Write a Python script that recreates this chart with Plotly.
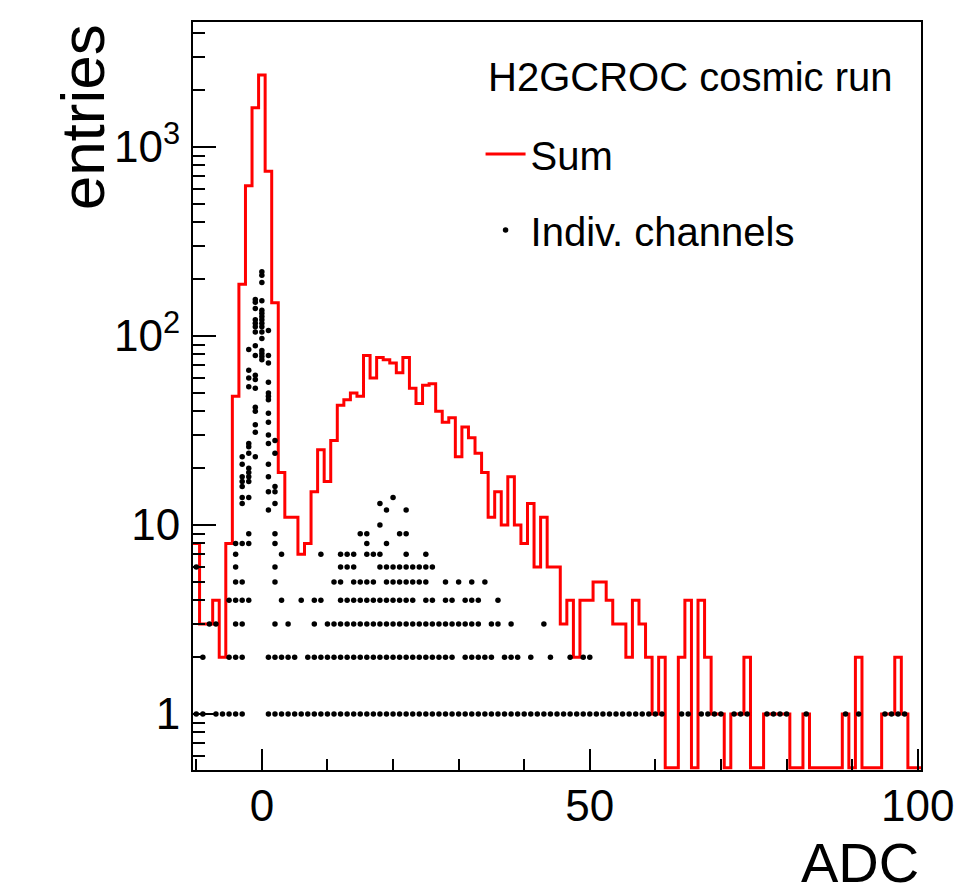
import numpy as np
import plotly.graph_objects as go

# ---------------- data ----------------
adc_first, adc_last = -10, 100          # bin centres (bin width 1)
sum_counts = [
    8, 3, 3, 4, 2, 8, 48, 188, 624, 1614,          # -10 .. -1
    2404, 746, 150, 19, 11, 11, 7, 8, 15, 25,       # 0 .. 9
    17, 28, 43, 46, 50, 48, 79, 60, 77, 75,         # 10 .. 19
    72, 64, 77, 53, 44, 55, 56, 40, 35, 37,         # 20 .. 29
    23, 33, 29, 24, 19, 11, 15, 10, 18, 10,         # 30 .. 39
    8, 13, 6, 11, 6, 6, 3, 4, 2, 4,                 # 40 .. 49
    4, 5, 5, 4, 3, 3, 2, 4, 3, 2,                   # 50 .. 59
    1, 2, 0, 0, 2, 4, 0, 4, 2, 1,                   # 60 .. 69
    1, 0, 1, 1, 2, 0, 0, 1, 1, 1,                   # 70 .. 79
    1, 0, 0, 1, 0, 0, 0, 0, 0, 1,                   # 80 .. 89
    0, 2, 0, 0, 0, 1, 1, 2, 1, 0,                   # 90 .. 99
    0,                                              # 100
]

# individual channels: for each low count level, the ADC bins where a channel has that count
level_1 = [-10, -9, -7, -6, -5, -4, -3] + list(range(1, 62)) + \
          [64, 65, 67, 68, 69, 70, 72, 73, 74, 77, 78, 79, 80, 83, 89, 91, 95, 96, 97, 98]
level_2 = [-9, -5, -4, -3, 1, 2, 3, 4, 5] + list(range(7, 30)) + \
          [31, 32, 33, 34, 35, 37, 38, 39, 41, 44, 47, 49, 50]
level_3 = [-8, -7, -4, -3, 2, 4, 8] + list(range(10, 34)) + [35, 36, 38, 43]
level_4 = [-5, -4, -3, -2, 3, 6, 8, 9] + list(range(12, 24)) + [25, 26, 28, 29, 31, 32, 33, 36]
level_5 = [-4, -3, 2, 11, 12, 14, 15, 16, 17, 19, 20, 21, 22, 23, 24, 25, 28, 30, 32, 34]
level_6 = [-10, -4, 2, 12, 13, 14, 18, 19, 20, 21, 22, 23, 24, 25, 26]
level_7 = [-4, 3, 9, 12, 13, 14, 16, 17, 18, 22, 25]
level_8 = [-4, -3, -2, 2, 16, 19]
level_9 = [-2, 2, 15, 16, 21, 22]
level_10 = [18]
level_12 = [1, 19, 22]
level_13 = [-3, 2, 18]
level_14 = [-3, -2, 20]

# individual channels with higher counts near the pedestal peak (per ADC bin)
peak_m3 = [23, 21, 18, 17, 16]
peak_m2 = [85, 66, 60, 54, 27, 26, 24, 20, 19, 18, 17]
peak_m1 = [156, 151, 140, 122, 117, 112, 105, 89, 79, 62, 59, 53, 42, 40, 34, 31, 23]
peak_0 = [219, 210, 192, 154, 137, 132, 127, 122, 117, 112, 105, 97, 84, 81, 78, 75]
peak_p1 = [107, 79, 72, 57, 50, 48, 46, 39, 35, 30, 27, 21, 18, 15]
peak_p2 = [28, 24, 16, 15]

y_tick_vals = [1, 10, 100, 1000]
y_tick_text = ["1", "10", "10<sup>2</sup>", "10<sup>3</sup>"]
x_tick_vals = [0, 50, 100]

# ---------------- build traces ----------------
centres = np.arange(adc_first, adc_last + 1)
counts = np.array(sum_counts, dtype=float)
assert len(counts) == len(centres)

y_min, y_max = 0.506, 4590.0
floor_val = 0.52   # empty bins drawn on the frame bottom (ROOT style)
disp = np.where(counts > 0, counts, floor_val)
edges = np.concatenate([centres - 0.5, [centres[-1] + 0.5]])
step_y = np.concatenate([disp, [disp[-1]]])

levels = {1: level_1, 2: level_2, 3: level_3, 4: level_4, 5: level_5, 6: level_6,
          7: level_7, 8: level_8, 9: level_9, 10: level_10, 12: level_12,
          13: level_13, 14: level_14}
peaks = {-3: peak_m3, -2: peak_m2, -1: peak_m1, 0: peak_0, 1: peak_p1, 2: peak_p2}
dx, dy = [], []
for lv, xs in levels.items():
    dx += xs
    dy += [lv] * len(xs)
for xb, vals in peaks.items():
    dx += [xb] * len(vals)
    dy += vals

font = "Liberation Sans, Arial, Helvetica, sans-serif"

fig = go.Figure()
fig.add_trace(go.Scatter(
    x=edges, y=step_y, mode="lines", line=dict(color="#ff0000", width=3, shape="hv"),
    name="Sum", legendgroup="a"))
fig.add_trace(go.Scatter(
    x=dx, y=dy, mode="markers", marker=dict(color="black", size=5.5),
    name="Indiv. channels", legendgroup="b"))

fig.update_layout(
    width=973, height=894,
    margin=dict(l=193, r=52, t=22, b=124),
    paper_bgcolor="white", plot_bgcolor="white",
    font=dict(family=font, color="black", size=40),
    showlegend=True,
    legend=dict(
        x=0.395, y=0.867, xanchor="left", yanchor="top",
        bgcolor="rgba(0,0,0,0)", borderwidth=0,
        font=dict(size=40, family=font, color="black"),
        tracegroupgap=21, itemwidth=40,
    ),
    xaxis=dict(
        range=[adc_first - 0.5, adc_last + 0.5],
        tickmode="array", tickvals=x_tick_vals, ticks="inside", ticklen=21, tickwidth=1.5,
        tickcolor="black",
        minor=dict(ticks="inside", dtick=10, tick0=0, ticklen=11, tickwidth=1.5, tickcolor="black"),
        showline=True, mirror=True, linecolor="black", linewidth=2,
        showgrid=False, zeroline=False,
        tickfont=dict(size=44, family=font), ticklabelstandoff=-4,
    ),
    yaxis=dict(
        type="log", range=[np.log10(y_min), np.log10(y_max)],
        tickmode="array", tickvals=y_tick_vals, ticktext=y_tick_text,
        ticks="inside", ticklen=23, tickwidth=1.5, tickcolor="black",
        minor=dict(ticks="inside", dtick="D1", ticklen=12, tickwidth=1.5, tickcolor="black"),
        showline=True, mirror=True, linecolor="black", linewidth=2,
        showgrid=False, zeroline=False,
        tickfont=dict(size=44, family=font), ticklabelstandoff=2,
    ),
    annotations=[
        dict(text="H2GCROC cosmic run", xref="paper", yref="paper", x=0.402, y=0.9265,
             xanchor="left", yanchor="middle", showarrow=False,
             font=dict(size=40, family=font, color="black")),
        dict(text="entries", xref="paper", yref="paper", x=-0.152, y=1.0,
             xanchor="center", yanchor="top", textangle=-90, showarrow=False,
             font=dict(size=62, family=font, color="black")),
        dict(text="ADC", xref="paper", yref="paper", x=1.0, y=-0.123,
             xanchor="right", yanchor="middle", showarrow=False,
             font=dict(size=56, family=font, color="black")),
    ],
)

fig.write_html("out.html")
